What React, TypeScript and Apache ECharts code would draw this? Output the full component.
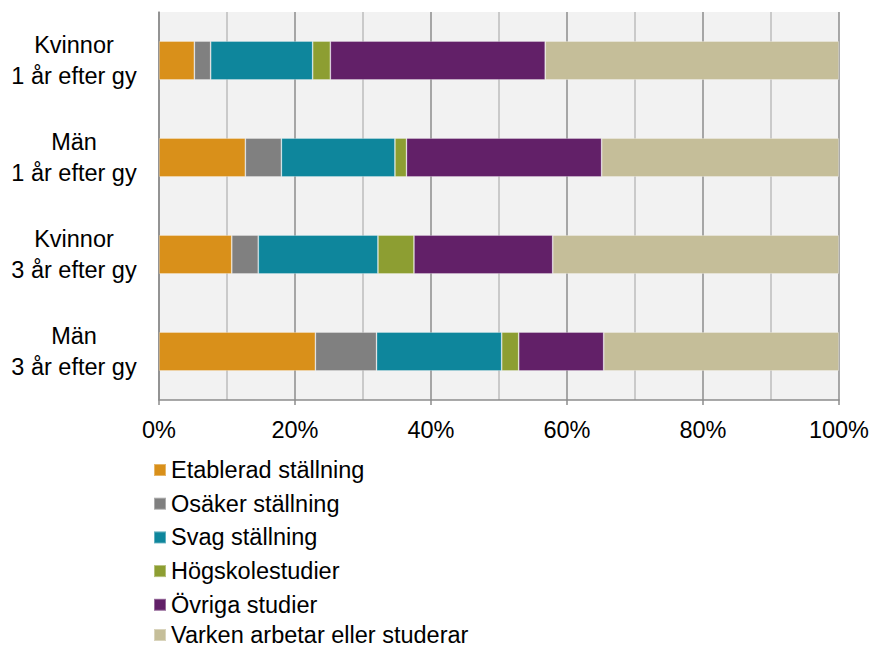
import React, { useEffect, useRef } from "react";
import * as echarts from "echarts";

const categories = ["Kvinnor\n1 år efter gy", "Män\n1 år efter gy", "Kvinnor\n3 år efter gy", "Män\n3 år efter gy"];
const seriesNames = [
  "Etablerad ställning",
  "Osäker ställning",
  "Svag ställning",
  "Högskolestudier",
  "Övriga studier",
  "Varken arbetar eller studerar",
];
const etablerad = [5.2, 12.7, 10.7, 23.0];
const osaker = [2.4, 5.3, 3.9, 9.0];
const svag = [15.0, 16.7, 17.6, 18.4];
const hogskole = [2.6, 1.7, 5.3, 2.5];
const ovriga = [31.6, 28.7, 20.4, 12.5];
const varken = [43.2, 34.9, 42.1, 34.6];
const colors = ["#d9901a", "#808080", "#0e869c", "#8d9e32", "#622068", "#c5be99"];

export default function App() {
  const ref = useRef<HTMLDivElement>(null);
  useEffect(() => {
    if (!ref.current) return;
    const chart = echarts.init(ref.current, undefined, { renderer: "svg" });
    const values = [etablerad, osaker, svag, hogskole, ovriga, varken];
    const font = "'Liberation Sans', Arial, sans-serif";
    const legendBase = {
      orient: "vertical",
      left: 148,
      itemWidth: 12,
      itemHeight: 12,
      itemGap: 9.7,
      icon: "rect",
      textStyle: { fontSize: 23.5, color: "#000", fontFamily: font },
    };
    chart.setOption({
      animation: false,
      textStyle: { fontFamily: font },
      grid: {
        left: 159,
        right: 33,
        top: 12,
        bottom: 247,
        show: true,
        backgroundColor: "#f2f2f2",
        borderWidth: 0,
      },
      legend: [
        { ...legendBase, top: 453, data: seriesNames.slice(0, 5) },
        {
          ...legendBase,
          top: 623,
          padding: [0, 5, 0, 5],
          data: seriesNames.slice(5),
          textStyle: { ...legendBase.textStyle, lineHeight: 22 },
        },
      ],
      xAxis: {
        type: "value",
        min: 0,
        max: 100,
        interval: 20,
        axisLine: { show: true, lineStyle: { color: "#8c8c8c", width: 1.5 } },
        axisTick: { show: true, length: 5, lineStyle: { color: "#8c8c8c", width: 1.5 } },
        axisLabel: { formatter: "{value}%", fontSize: 23.5, color: "#000", margin: 18, fontFamily: font },
        splitLine: { show: true, lineStyle: { color: "#8c8c8c", width: 1.5 } },
        minorTick: { show: false, splitNumber: 2 },
        minorSplitLine: { show: true, lineStyle: { color: "#bdbdbd", width: 1.5 } },
      },
      yAxis: {
        type: "category",
        data: categories,
        inverse: true,
        axisLine: { show: true, lineStyle: { color: "#8c8c8c", width: 1.5 } },
        axisTick: { show: false },
        axisLabel: {
          fontSize: 23.5,
          color: "#000",
          align: "center",
          margin: 85,
          lineHeight: 31,
          fontFamily: font,
        },
        splitLine: { show: false },
      },
      series: seriesNames.map((name, i) => ({
        name,
        type: "bar",
        stack: "total",
        barWidth: "40%",
        data: values[i],
        itemStyle: { color: colors[i], borderColor: "rgba(255,255,255,0.35)", borderWidth: 0.8 },
      })),
    });
    return () => chart.dispose();
  }, []);
  return <div ref={ref} style={{ position: "absolute", left: 0, top: 0, width: 872, height: 647 }} />;
}
